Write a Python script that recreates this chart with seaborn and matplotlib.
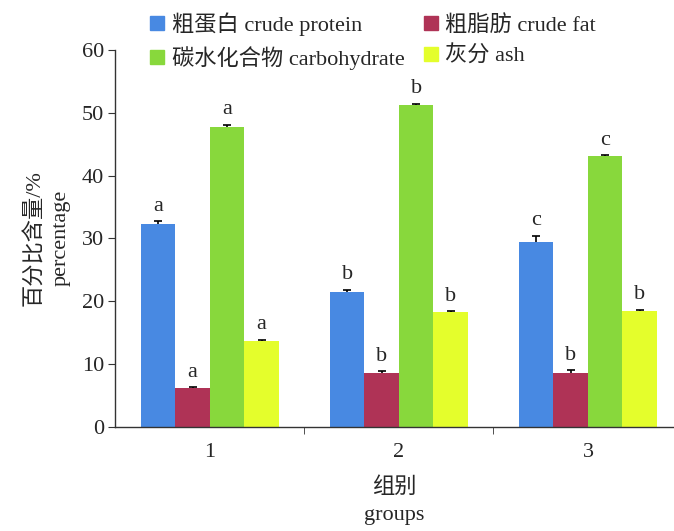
import numpy as np
import pandas as pd
import matplotlib
matplotlib.use('Agg')
import matplotlib.pyplot as plt
import seaborn as sns

# data
groups = ['1', '2', '3']
nutrients = ['粗蛋白 crude protein', '粗脂肪 crude fat', '碳水化合物 carbohydrate', '灰分 ash']
protein = [32.2, 21.45, 29.4]
fat = [6.1, 8.6, 8.6]
carbs = [47.7, 51.2, 43.1]
ash = [13.65, 18.2, 18.4]
protein_err = [0.5, 0.35, 1.0]
fat_err = [0.2, 0.2, 0.4]
carbs_err = [0.4, 0.2, 0.1]
ash_err = [0.2, 0.2, 0.2]
protein_sig = ['a', 'b', 'c']
fat_sig = ['a', 'b', 'b']
carbs_sig = ['a', 'b', 'c']
ash_sig = ['a', 'b', 'b']

colors = ['#4889E2', '#AF3356', '#88D83C', '#E4FE2C']

sns.set_style('white')
plt.rcParams['font.family'] = ['Liberation Serif', 'Noto Sans CJK SC']
plt.rcParams['axes.unicode_minus'] = False
fs = 16

rows = []
for name, vals in zip(nutrients, [protein, fat, carbs, ash]):
    for g, v in zip(groups, vals):
        rows.append({'group': g, 'nutrient': name, 'value': v})
df = pd.DataFrame(rows)

fig = plt.figure(figsize=(6.74, 5.31), dpi=100)
ax = fig.add_axes([0.171, 0.1964, 0.829, 0.7096])

sns.barplot(data=df, x='group', y='value', hue='nutrient', hue_order=nutrients,
            palette=colors, width=0.73, saturation=1, errorbar=None, ax=ax,
            edgecolor='none', linewidth=0)

# error bars (upper half only) and significance letters
errs = [protein_err, fat_err, carbs_err, ash_err]
sigs = [protein_sig, fat_sig, carbs_sig, ash_sig]
cap = 0.021
for cont, err, sig in zip(ax.containers, errs, sigs):
    for bar, e, s in zip(cont, err, sig):
        xc = bar.get_x() + bar.get_width() / 2
        h = bar.get_height()
        ax.vlines(xc, h, h + e, color='black', linewidth=1.2)
        ax.hlines(h + e, xc - cap, xc + cap, color='black', linewidth=1.2)
        ax.annotate(s, (xc, h + e), xytext=(0, 4), textcoords='offset points',
                    ha='center', va='bottom', fontsize=fs)

ax.set_ylim(0, 60)
ax.set_xlim(-0.5, 2.455)
ax.set_yticks(range(0, 61, 10))
ax.set_xticks([0, 1, 2])
ax.set_xticks([0.5, 1.5], minor=True)
ax.tick_params(axis='x', which='major', length=0, labelsize=fs, pad=12)
ax.tick_params(axis='x', which='minor', length=5, direction='out', color='#333333', bottom=True)
ax.tick_params(axis='y', length=5, direction='out', color='#333333', labelsize=fs, left=True, pad=3)

for side in ['top', 'right']:
    ax.spines[side].set_visible(False)
for side in ['left', 'bottom']:
    ax.spines[side].set_color('#333333')
    ax.spines[side].set_linewidth(1)

ax.set_xlabel('组别\ngroups', fontsize=fs, linespacing=1.55, labelpad=11)
ax.set_ylabel('百分比含量/%\npercentage', fontsize=fs, linespacing=1.45, labelpad=8)

ax.legend_.remove()
handles = [plt.Rectangle((0, 0), 1, 1, color=c) for c in colors]
order = [0, 2, 1, 3]  # fill row by row
fig.legend([handles[i] for i in order], [nutrients[i] for i in order],
           loc='upper left', bbox_to_anchor=(0.205, 1.0),
           ncol=2, frameon=False, fontsize=fs, handlelength=0.6, handleheight=0.6,
           handletextpad=0.35, labelspacing=0.45, columnspacing=0.9,
           borderaxespad=0.15)

fig.savefig('out.png', dpi=100)
